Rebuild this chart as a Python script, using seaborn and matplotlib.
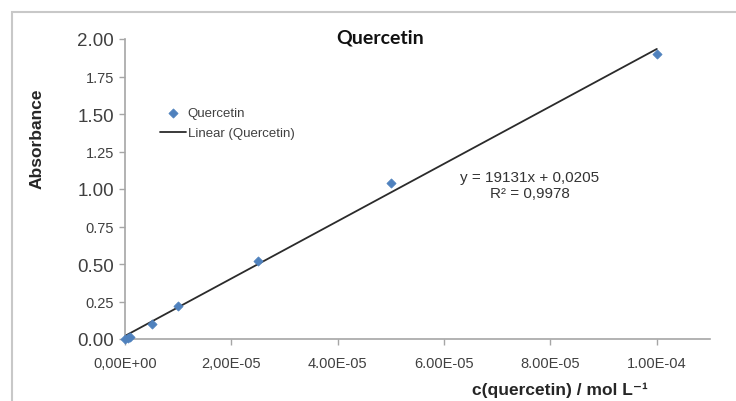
import matplotlib
matplotlib.use("Agg")
import matplotlib.pyplot as plt
import seaborn as sns
import numpy as np
import pandas as pd
from matplotlib.patches import Rectangle

# ---- data ----
conc = [0.0, 5.0e-7, 1.0e-6, 5.0e-6, 1.0e-5, 2.5e-5, 5.0e-5, 1.0e-4]
absorbance = [0.0, 0.005, 0.015, 0.10, 0.22, 0.52, 1.04, 1.90]
slope = 19131.0
intercept = 0.0205
trend_x = [0.0, 1.0e-4]
x_ticks = [0.0, 2e-5, 4e-5, 6e-5, 8e-5, 1e-4]
x_tick_labels = ["0,00E+00", "2,00E-05", "4.00E-05", "6.00E-05", "8.00E-05", "1.00E-04"]
y_ticks = [0.00, 0.25, 0.50, 0.75, 1.00, 1.25, 1.50, 1.75, 2.00]
y_tick_labels = ["0.00", "0.25", "0.50", "0.75", "1.00", "1.25", "1.50", "1.75", "2.00"]
title = "Quercetin"
series_name = "Quercetin"
trend_name = "Linear (Quercetin)"
eq_text = "y = 19131x + 0,0205\nR² = 0,9978"

sns.set_style("white")
plt.rcParams["font.family"] = ["Liberation Sans", "DejaVu Sans"]

fig = plt.figure(figsize=(7.36, 4.02), dpi=100)
W, H = 736, 402
ax = fig.add_axes([125 / W, 1 - 340 / H, 585 / W, 300 / H])

# outer chart frame
fig.patches.append(Rectangle((12 / W, -0.05), 1.1, (H - 13) / H + 0.05,
                             transform=fig.transFigure, fill=False,
                             edgecolor="#c8c8c8", linewidth=1.5, zorder=0))

df = pd.DataFrame({"c": conc, "A": absorbance})
tdf = pd.DataFrame({"c": trend_x, "A": [slope * v + intercept for v in trend_x]})

sns.lineplot(data=tdf, x="c", y="A", ax=ax, color="#2b2b2b", linewidth=1.3,
             label=trend_name, zorder=2)
sns.scatterplot(data=df, x="c", y="A", ax=ax, marker="D", s=22, color="#4F81BD",
                edgecolor="#4F81BD", linewidth=0.5, label=series_name, zorder=3,
                clip_on=False)

ax.set_xlim(0, 1.1e-4)
ax.set_ylim(0, 2.0)
ax.set_xticks(x_ticks)
ax.set_xticklabels(x_tick_labels, fontsize=10.5, color="#404040")
ax.set_yticks(y_ticks)
ax.set_yticklabels(y_tick_labels, color="#404040")
for lab, v in zip(ax.get_yticklabels(), y_ticks):
    lab.set_fontsize(13.5 if abs((v * 2) - round(v * 2)) < 1e-9 else 10.5)

for s in ["top", "right"]:
    ax.spines[s].set_visible(False)
for s in ["left", "bottom"]:
    ax.spines[s].set_color("#a6a6a6")
    ax.spines[s].set_linewidth(1.2)
ax.tick_params(axis="both", direction="out", length=4, width=1, color="#a6a6a6",
               left=True, bottom=True, pad=4)
ax.tick_params(axis="x", pad=8)

ax.set_xlabel("c(quercetin) / mol L⁻¹", fontsize=12.5, fontweight="bold",
              color="#262626", family=["Liberation Sans", "DejaVu Sans"])
ax.xaxis.set_label_coords((560 - 125) / 585, (340 - 390) / 300)
ax.xaxis.label.set_va("center")
ax.set_ylabel("Absorbance", fontsize=12.5, fontweight="bold", color="#262626")
ax.yaxis.set_label_coords((37 - 125) / 585, (340 - 139) / 300)
ax.yaxis.label.set_va("center")

fig.text(380 / W, 1 - 38 / H, title, ha="center", va="center", fontsize=14,
         fontweight="bold", family=["Lato", "DejaVu Sans"], color="#111111")

ax.text((530 - 125) / 585, (340 - 186) / 300, eq_text, transform=ax.transAxes,
        ha="center", va="center", fontsize=11, color="#333333", linespacing=1.2)

h, l = ax.get_legend_handles_labels()
order = [l.index(series_name), l.index(trend_name)]
ax.legend([h[i] for i in order], [l[i] for i in order], loc="upper left",
          bbox_to_anchor=((160 - 125) / 585, (340 - 108) / 300), frameon=False,
          borderpad=0, borderaxespad=0, handlelength=1.95, handletextpad=0.15,
          labelspacing=0.6, fontsize=9.5, labelcolor="#404040")

fig.savefig("out.png", dpi=100)
